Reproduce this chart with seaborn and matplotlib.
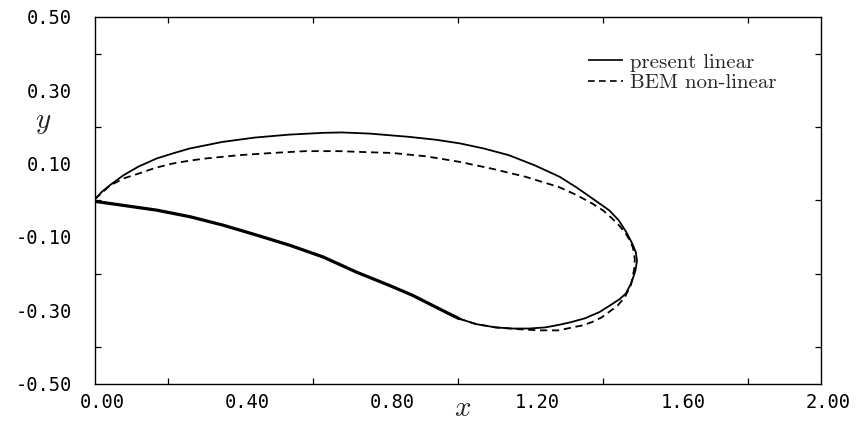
import numpy as np
import pandas as pd
import matplotlib
matplotlib.use("Agg")
import matplotlib.pyplot as plt
import matplotlib.transforms as mtransforms
import seaborn as sns

# ---- data ----
# free surface, present linear theory (upper + rear part of the loop)
lin_x = [0.000, 0.020, 0.041, 0.078, 0.120, 0.170, 0.215, 0.260, 0.350, 0.440,
         0.534, 0.630, 0.680, 0.755, 0.865, 0.940, 1.006, 1.072, 1.140, 1.212,
         1.280, 1.325, 1.370, 1.416, 1.443, 1.463, 1.480, 1.490, 1.493, 1.489,
         1.478, 1.462, 1.445, 1.425, 1.390, 1.350, 1.310, 1.278, 1.240, 1.196,
         1.150, 1.104, 1.050, 1.003]
lin_y = [0.003, 0.024, 0.041, 0.068, 0.092, 0.114, 0.128, 0.141, 0.159, 0.171,
         0.179, 0.184, 0.185, 0.182, 0.173, 0.165, 0.155, 0.141, 0.123, 0.095,
         0.064, 0.036, 0.005, -0.027, -0.055, -0.086, -0.118, -0.142, -0.165, -0.191,
         -0.225, -0.255, -0.270, -0.283, -0.305, -0.322, -0.333, -0.340, -0.347, -0.350,
         -0.350, -0.347, -0.338, -0.323]

# BEM non-linear solution
bem_x = [0.000, 0.041, 0.080, 0.121, 0.165, 0.213, 0.260, 0.305, 0.397, 0.488,
         0.580, 0.672, 0.755, 0.819, 0.911, 1.003, 1.094, 1.186, 1.278, 1.325,
         1.370, 1.400, 1.425, 1.445, 1.462, 1.474, 1.482, 1.487, 1.485, 1.476,
         1.460, 1.440, 1.416, 1.395, 1.370, 1.345, 1.315, 1.278, 1.223, 1.170,
         1.104, 1.050, 1.003]
bem_y = [0.003, 0.040, 0.060, 0.073, 0.088, 0.100, 0.108, 0.114, 0.123, 0.129,
         0.134, 0.134, 0.131, 0.129, 0.120, 0.105, 0.086, 0.064, 0.036, 0.015,
         -0.009, -0.028, -0.050, -0.070, -0.091, -0.110, -0.130, -0.160, -0.190, -0.232,
         -0.264, -0.287, -0.305, -0.320, -0.332, -0.341, -0.347, -0.355, -0.355, -0.352,
         -0.347, -0.338, -0.323]

# body surface (common to both solutions)
body_x = [1.003, 0.966, 0.920, 0.874, 0.810, 0.720, 0.629, 0.537, 0.445, 0.353,
          0.262, 0.170, 0.078, 0.000]
body_y = [-0.323, -0.305, -0.282, -0.259, -0.232, -0.196, -0.155, -0.123, -0.095, -0.068,
          -0.045, -0.027, -0.014, -0.003]

labels = ["present linear", "BEM non-linear"]

x_ticks = [0.0, 0.4, 0.8, 1.2, 1.6, 2.0]
y_ticks = [-0.5, -0.3, -0.1, 0.1, 0.3, 0.5]

# ---- build tidy frame ----
frames = []
for lab, xs, ys in [(labels[0], lin_x, lin_y), (labels[1], bem_x, bem_y)]:
    xx = list(xs) + list(body_x)
    yy = list(ys) + list(body_y)
    frames.append(pd.DataFrame({"x": xx, "y": yy, "case": lab}))
df = pd.concat(frames, ignore_index=True)
body_df = pd.DataFrame({"x": body_x, "y": body_y})

sns.set_theme(style="ticks")
plt.rcParams["font.family"] = ["DejaVu Serif"]
plt.rcParams["mathtext.fontset"] = "cm"

fig = plt.figure(figsize=(8.57, 4.23), dpi=100)
ax = fig.add_axes([95 / 857, 1 - 383.5 / 423, 726 / 857, 366.5 / 423])

sns.lineplot(data=df, x="x", y="y", hue="case", style="case",
             hue_order=labels, style_order=labels,
             palette=["black", "black"], dashes=[(1, 0), (4.0, 2.6)],
             sort=False, estimator=None, units="case", linewidth=1.3, ax=ax,
             legend=True)
h, l = ax.get_legend_handles_labels()
if ax.get_legend() is not None:
    ax.get_legend().remove()
sns.lineplot(data=body_df, x="x", y="y", sort=False, estimator=None,
             color="black", linewidth=2.3, ax=ax, legend=False)

ax.set_xlim(0, 2.0)
ax.set_ylim(-0.5, 0.5)
ax.set_xticks(x_ticks)
ax.set_xticklabels([f"{v:.2f}" for v in x_ticks])
ax.set_yticks(y_ticks)
ax.set_yticklabels([f"{v:.2f}" for v in y_ticks])
ax.set_xticks(np.arange(0, 2.01, 0.2), minor=True)
ax.set_yticks(np.arange(-0.5, 0.51, 0.1), minor=True)
ax.tick_params(which="both", direction="in", top=True, right=True,
               colors="black", width=0.9)
ax.tick_params(which="major", length=0, labelsize=13.5)
ax.tick_params(axis="y", which="major", pad=16.5)
ax.tick_params(axis="x", which="major", pad=7)
ax.tick_params(which="minor", length=4)
shift = mtransforms.ScaledTranslation(7 / 100, 0, fig.dpi_scale_trans)
for lab in ax.get_xticklabels():
    lab.set_family("DejaVu Sans Mono")
    lab.set_transform(lab.get_transform() + shift)
for lab in ax.get_yticklabels():
    lab.set_family("DejaVu Sans Mono")
for s in ax.spines.values():
    s.set_color("black")
    s.set_linewidth(1.0)

ax.set_xlabel("")
ax.set_ylabel("")
fig.text(463 / 857, 1 - 408 / 423, "$x$", ha="center", va="center", fontsize=21)
fig.text(43 / 857, 1 - 122 / 423, "$y$", ha="center", va="center", fontsize=21)

leg = fig.legend(h, l, loc="upper left", bbox_to_anchor=(588 / 857, 1 - 53 / 423),
                 frameon=False, handlelength=1.7, handletextpad=0.3,
                 labelspacing=0.08, borderpad=0, borderaxespad=0,
                 prop={"family": "cmr10", "size": 15})
for line in leg.get_lines():
    line.set_linewidth(1.2)

fig.savefig("out.png", dpi=100, facecolor="white")
